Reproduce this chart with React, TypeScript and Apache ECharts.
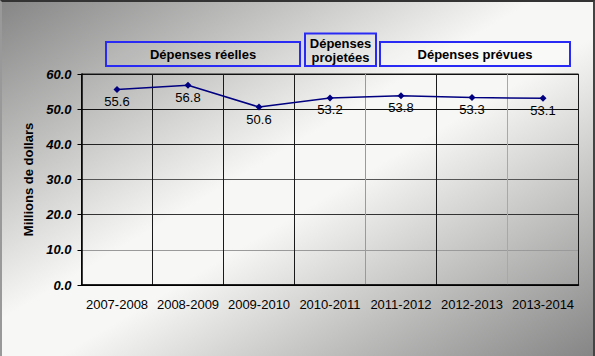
import React, { useEffect, useRef } from "react";
import * as echarts from "echarts";

const categories = ["2007-2008", "2008-2009", "2009-2010", "2010-2011", "2011-2012", "2012-2013", "2013-2014"];
const spending = [55.6, 56.8, 50.6, 53.2, 53.8, 53.3, 53.1];
const yAxisName = "Millions de dollars";
const headerLabels = ["Dépenses réelles", "Dépenses\nprojetées", "Dépenses prévues"];

export default function App() {
  const ref = useRef<HTMLDivElement>(null);
  useEffect(() => {
    if (!ref.current) return;
    const chart = echarts.init(ref.current, null, { renderer: "svg" });
    const font = "Arial, 'Liberation Sans', sans-serif";
    const boxStyle = { fill: "rgba(255,255,255,0.08)", stroke: "#2a2af5", lineWidth: 2 };
    const boxText = { fill: "#000", font: `bold 13px ${font}`, align: "center", verticalAlign: "middle" };
    chart.setOption({
      animation: false,
      backgroundColor: {
        type: "linear", x: 0, y: 0, x2: 1, y2: 1,
        colorStops: [
          { offset: 0, color: "#858585" },
          { offset: 0.45, color: "#f7f7f5" },
          { offset: 0.55, color: "#f7f7f5" },
          { offset: 1, color: "#858585" },
        ],
      },
      grid: { left: 81.5, right: 16.5, top: 74, bottom: 71, show: true, borderColor: "#1a1a1a", borderWidth: 1, backgroundColor: "transparent" },
      xAxis: {
        type: "category",
        data: categories,
        boundaryGap: true,
        axisLine: { lineStyle: { color: "#000", width: 1.5 } },
        axisTick: { show: false },
        axisLabel: { color: "#000", fontSize: 13, fontFamily: font, margin: 13, interval: 0 },
        splitLine: { show: true, lineStyle: { color: ["#1a1a1a", "#1a1a1a", "#1a1a1a", "#1a1a1a", "#9a9a9a", "#1a1a1a", "#a8a8a8", "#1a1a1a"], width: 1 } },
      },
      yAxis: {
        type: "value",
        min: 0, max: 60, interval: 10,
        name: yAxisName,
        nameLocation: "middle",
        nameGap: 44,
        nameTextStyle: { color: "#000", fontSize: 13, fontWeight: "bold", fontFamily: font },
        axisLine: { show: true, lineStyle: { color: "#000", width: 1.5 } },
        axisTick: { show: true, length: 4, lineStyle: { color: "#000" } },
        axisLabel: { color: "#000", fontSize: 13, fontWeight: "bold", fontStyle: "italic", fontFamily: font, margin: 10, formatter: (v: number) => v.toFixed(1) },
        splitLine: { show: true, lineStyle: { color: ["#000", "#9a9a9a", "#333", "#555", "#222", "#111", "#111"], width: 1 } },
      },
      series: [{
        type: "line",
        data: spending,
        symbol: "diamond",
        symbolSize: 7,
        lineStyle: { color: "#000080", width: 1.5 },
        itemStyle: { color: "#000080" },
        label: { show: true, position: "bottom", distance: 2, color: "#000", fontSize: 13, fontFamily: font, formatter: (p: any) => p.value.toFixed(1) },
      }],
      graphic: [
        { type: "rect", shape: { x: 106, y: 42, width: 194, height: 24 }, style: boxStyle },
        { type: "text", x: 203, y: 54, style: { ...boxText, text: headerLabels[0] } },
        { type: "rect", shape: { x: 305, y: 33.5, width: 71, height: 32.5 }, style: boxStyle },
        { type: "text", x: 340.5, y: 50, style: { ...boxText, text: headerLabels[1], lineHeight: 14 } },
        { type: "rect", shape: { x: 380, y: 42, width: 190, height: 24 }, style: { ...boxStyle, fill: "rgba(255,255,255,0.3)" } },
        { type: "text", x: 475, y: 54, style: { ...boxText, text: headerLabels[2] } },
      ],
    });
    return () => chart.dispose();
  }, []);
  return (
    <div style={{ position: "absolute", left: 0, top: 0, width: 595, height: 356 }}>
      <div ref={ref} style={{ width: 595, height: 356 }} />
      <div style={{ position: "absolute", left: 0, top: 0, width: 595, height: 356, boxSizing: "border-box", borderTop: "2px solid #333", borderRight: "2px solid #444", borderLeft: "2px solid #999", pointerEvents: "none" }} />
    </div>
  );
}
